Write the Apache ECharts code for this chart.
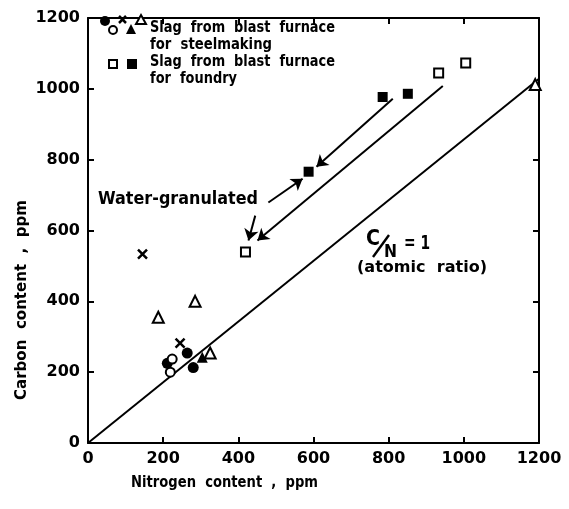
<!DOCTYPE html>
<html>
<head>
<meta charset="utf-8">
<script src="https://cdn.jsdelivr.net/npm/echarts@6/dist/echarts.min.js"></script>
<style>
  html, body { margin: 0; padding: 0; background: #fff; }
  #chart { width: 569px; height: 509px; }
</style>
</head>
<body>
<div id="chart"></div>
<script>
// N (ppm), C (ppm)
var steelFilledCircle = [[211, 225], [264, 254], [280, 213]];
var steelOpenCircle = [[224, 237], [219, 200]];
var steelCross = [[145, 533], [245, 282]];
var steelOpenTri = [[187, 355], [285, 400], [325, 254], [1190, 1012]];
var steelFilledTri = [[304, 242]];
var foundryOpenSq = [[419, 539], [933, 1045], [1005, 1073]];
var foundryFilledSq = [[587, 766], [784, 977], [851, 986]];

// C/N = 1 atomic ratio line  (C = 12/14 N)
var ratioLine = [[0, 0], [1200, 1200 * 12 / 14]];

var arrows = [
    [[811, 972], [608, 780]],
    [[944, 1008], [451, 572]],
    [[480, 679], [571, 746]],
    [[445, 642], [427, 572]]
];

var FONT = '"DejaVu Sans"';
var crossPath = 'path://M0,0L10,10M0,10L10,0';

var dom = document.getElementById('chart');
var myChart = echarts.init(dom);

var openStyle = { color: '#fff', borderColor: '#000', borderWidth: 2, opacity: 1 };
var fillStyle = { color: '#000', opacity: 1 };

function markSeries(data, symbol, size, style) {
    return {
        type: 'scatter',
        data: data,
        symbol: symbol,
        symbolSize: size,
        itemStyle: style,
        z: 5,
        silent: true
    };
}

var axisBase = {
    type: 'value',
    min: 0,
    max: 1200,
    interval: 200,
    axisLine: { show: true, onZero: false, lineStyle: { color: '#000', width: 2 } },
    axisTick: { show: true, inside: true, length: 6, lineStyle: { color: '#000', width: 2 } },
    splitLine: { show: false },
    axisLabel: { color: '#000', fontFamily: 'DejaVu Sans', fontSize: 16, fontWeight: 'bold', margin: 8 }
};

function ax(extra) {
    var a = JSON.parse(JSON.stringify(axisBase));
    a.axisLabel.formatter = function (v) { return String(v); };
    return Object.assign(a, extra);
}

option = {
    animation: false,
    grid: { left: 88, right: 30, top: 18, bottom: 66, outerBoundsMode: 'none' },
    xAxis: [
        ax({ position: 'bottom' }),
        ax({ position: 'top', axisLabel: { show: false } })
    ],
    yAxis: [
        ax({ position: 'left' }),
        ax({ position: 'right', axisLabel: { show: false } })
    ],
    series: [
        {
            type: 'line',
            data: ratioLine,
            symbol: 'none',
            lineStyle: { color: '#000', width: 2 },
            z: 2,
            silent: true
        },
        {
            type: 'lines',
            coordinateSystem: 'cartesian2d',
            data: arrows.map(function (a) { return { coords: a }; }),
            symbol: ['none', 'arrow'],
            symbolSize: 11,
            lineStyle: { color: '#000', width: 2, opacity: 1 },
            z: 3,
            silent: true
        },
        markSeries(steelFilledCircle, 'circle', 11, fillStyle),
        markSeries(steelOpenCircle, 'circle', 9, openStyle),
        markSeries(steelCross, crossPath, 9, { color: 'none', borderColor: '#000', borderWidth: 2.5, opacity: 1 }),
        markSeries(steelOpenTri, 'triangle', 11, openStyle),
        markSeries(steelFilledTri, 'triangle', 11, fillStyle),
        markSeries(foundryOpenSq, 'rect', 9, openStyle),
        markSeries(foundryFilledSq, 'rect', 10, fillStyle)
    ]
};

if (option && typeof option === 'object') {
    myChart.setOption(option, true);
}

// the scanned lettering is a bit narrow, so fit each label to the width it has in the figure
var measureCtx = document.createElement('canvas').getContext('2d');
function fit(text, x, y, size, width, rot) {
    var font = 'bold ' + size + 'px ' + FONT;
    measureCtx.font = font;
    var sx = width ? width / measureCtx.measureText(text).width : 1;
    return {
        type: 'text',
        x: x,
        y: y,
        z: 10,
        rotation: rot || 0,
        scaleX: sx,
        style: {
            text: text,
            fill: '#000',
            font: font,
            textAlign: rot ? 'center' : 'left',
            textVerticalAlign: 'middle'
        }
    };
}

var legendMarks = [
    { type: 'circle', shape: { cx: 105, cy: 21, r: 5 }, style: { fill: '#000' } },
    { type: 'circle', shape: { cx: 113, cy: 30, r: 4 }, style: { fill: '#fff', stroke: '#000', lineWidth: 2 } },
    { type: 'polyline', shape: { points: [[119, 16], [126, 23]] }, style: { stroke: '#000', lineWidth: 2.5 } },
    { type: 'polyline', shape: { points: [[126, 16], [119, 23]] }, style: { stroke: '#000', lineWidth: 2.5 } },
    { type: 'polygon', shape: { points: [[141, 15], [146, 24], [136, 24]] }, style: { fill: '#fff', stroke: '#000', lineWidth: 2 } },
    { type: 'polygon', shape: { points: [[131, 24], [136, 34], [126, 34]] }, style: { fill: '#000' } },
    { type: 'rect', shape: { x: 109, y: 60, width: 8, height: 8 }, style: { fill: '#fff', stroke: '#000', lineWidth: 2 } },
    { type: 'rect', shape: { x: 127, y: 59, width: 10, height: 10 }, style: { fill: '#000' } }
];
legendMarks.forEach(function (m) { m.z = 10; });

var graphics = legendMarks.concat([
    fit('Slag  from  blast  furnace', 150, 28, 15, 185),
    fit('for  steelmaking', 150, 45, 15, 122),
    fit('Slag  from  blast  furnace', 150, 62, 15, 185),
    fit('for  foundry', 150, 79, 15, 87),
    fit('Water-granulated', 98, 200, 17, 160),
    fit('C', 366, 240, 21, 14),
    { type: 'polyline', z: 10, shape: { points: [[373, 257], [389, 235]] }, style: { stroke: '#000', lineWidth: 2.4 } },
    fit('N', 384, 253, 17, 13),
    fit('= 1', 404, 244, 19, 26),
    fit('(atomic  ratio)', 357, 268, 16, 130),
    fit('Nitrogen  content  ,  ppm', 131, 483, 15, 187),
    fit('Carbon  content  ,  ppm', 22, 300, 15, 200, Math.PI / 2)
]);

myChart.setOption({ graphic: graphics });
</script>
</body>
</html>
